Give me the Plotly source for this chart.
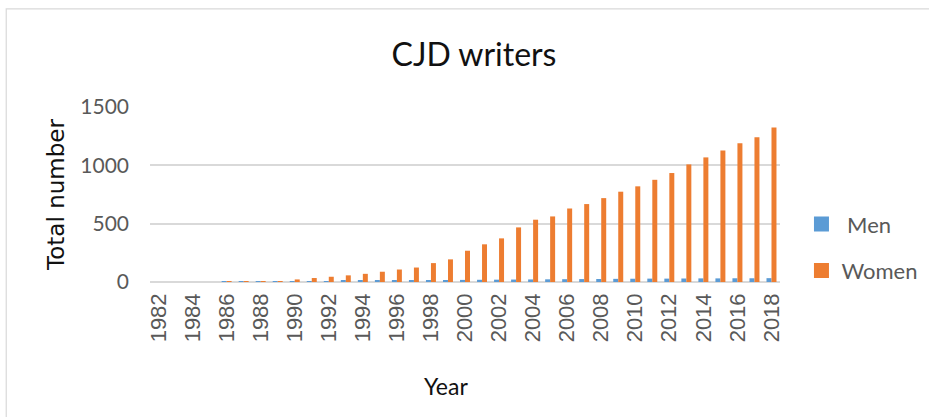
import plotly.graph_objects as go

# Yearly totals of CJD writers by gender
years = list(range(1982, 2019))
men = [0, 0, 0, 0, 1, 2, 3, 4, 5, 7, 8, 10, 11, 12, 13, 14, 16, 17, 18,
       19, 20, 21, 22, 23, 24, 25, 26, 27, 28, 29, 29, 30, 31, 31, 32, 32, 33]
women = [0, 0, 0, 0, 1, 2, 4, 8, 22, 34, 45, 57, 70, 88, 107, 124, 162, 194,
         268, 323, 374, 468, 534, 562, 630, 668, 719, 774, 820, 876, 934,
         1008, 1068, 1127, 1189, 1241, 1324]
y_ticks = [0, 500, 1000, 1500]
x_ticks = list(range(1982, 2019, 2))

W, H = 929, 417
ML, MR, MT, MB = 149.5, 148.5, 106.7, 135
PW, PH = W - ML - MR, H - MT - MB


def px_x(p):
    return (p - ML) / PW


def px_y(p):
    return (H - MB - p) / PH


GRID = "#D9D9D9"
TICK = "#595959"
BLUE = "#5B9BD5"
ORANGE = "#ED7D31"

fig = go.Figure()
fig.add_trace(go.Bar(x=years, y=men, name=" Men", marker_color=BLUE,
                     marker_line_width=0, showlegend=False))
fig.add_trace(go.Bar(x=years, y=women, name="Women", marker_color=ORANGE,
                     marker_line_width=0, showlegend=False))
# legend keys drawn as square swatches
for nm, col, grp in [(" Men", BLUE, "m"), ("Women", ORANGE, "w")]:
    fig.add_trace(go.Scatter(x=[None], y=[None], mode="markers", name=nm,
                             legendgroup=grp,
                             marker=dict(symbol="square", size=15, color=col)))

fig.update_layout(
    width=W, height=H,
    margin=dict(l=ML, r=MR, t=MT, b=MB, autoexpand=False),
    paper_bgcolor="white", plot_bgcolor="white",
    barmode="group", bargap=0.414, bargroupgap=0,
    title=dict(text="CJD writers", x=474 / W, xanchor="center",
               y=1 - 55 / H, yanchor="middle",
               font=dict(family="Lato", size=32, color="#111111")),
    xaxis=dict(range=[1981.5, 2018.5], tickvals=x_ticks,
               ticktext=[str(v) for v in x_ticks], tickangle=-90,
               tickfont=dict(family="Liberation Sans", size=22, color=TICK),
               showgrid=False, zeroline=False, showline=False,
               ticks="", ticklabelstandoff=6, automargin=False),
    yaxis=dict(range=[0, 1500], tickvals=y_ticks,
               tickfont=dict(family="Lato", size=21, color=TICK),
               showgrid=True, gridcolor=GRID, gridwidth=2,
               zeroline=True, zerolinecolor=GRID, zerolinewidth=2,
               showline=False, ticks="", ticklabelstandoff=20,
               automargin=False,
               title=dict(text="Total number", standoff=9,
                          font=dict(family="DejaVu Sans", size=23,
                                    color="#111111"))),
    legend=dict(x=px_x(802), xanchor="left", y=px_y(203), yanchor="top",
                font=dict(family="Lato", size=22, color=TICK),
                tracegroupgap=15, traceorder="grouped",
                bgcolor="rgba(0,0,0,0)", itemwidth=30),
    annotations=[dict(text="Year", x=px_x(446), y=px_y(386),
                      xref="paper", yref="paper", showarrow=False,
                      xanchor="center", yanchor="middle",
                      font=dict(family="Lato", size=23, color="#111111"))],
    shapes=[dict(type="rect", xref="paper", yref="paper",
                 x0=px_x(5.5), x1=px_x(W + 10), y0=px_y(H + 10), y1=px_y(8.5),
                 line=dict(color=GRID, width=1.2), fillcolor="rgba(0,0,0,0)",
                 layer="below")],
)

fig.write_html("out.html")
